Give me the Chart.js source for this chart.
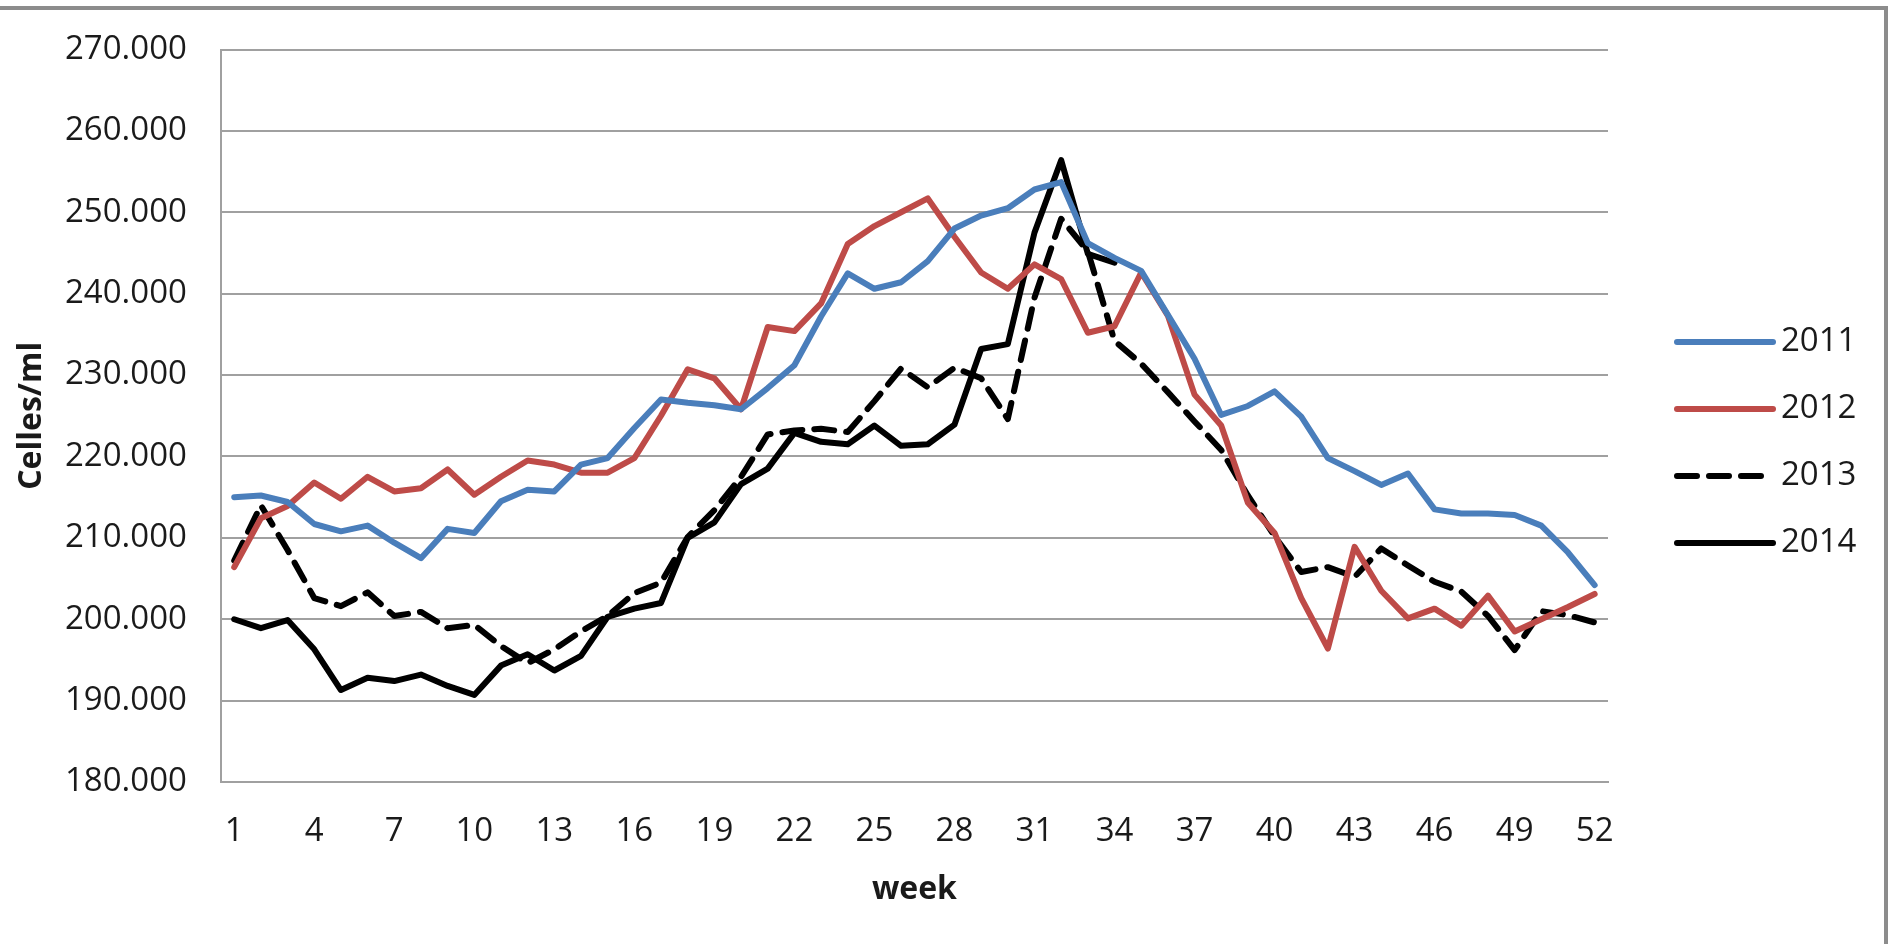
<!DOCTYPE html>
<html>
<head>
<meta charset="utf-8">
<title>Celles/ml per week</title>
<script src="https://cdn.jsdelivr.net/npm/chart.js@4.4.1/dist/chart.umd.min.js"></script>
<style>
  html, body { margin: 0; padding: 0; background: #fff; }
</style>
</head>
<body>
<canvas id="cellsChart" width="1892" height="944"></canvas>
<script>
// week numbers on the category axis
const weeks = ['1','2','3','4','5','6','7','8','9','10','11','12','13','14','15','16','17','18','19','20',
  '21','22','23','24','25','26','27','28','29','30','31','32','33','34','35','36','37','38','39','40',
  '41','42','43','44','45','46','47','48','49','50','51','52'];
const weekTicks = ['1','4','7','10','13','16','19','22','25','28','31','34','37','40','43','46','49','52'];

// values in thousand cells/ml (270 -> "270.000")
const y2011 = [215.0, 215.2, 214.4, 211.7, 210.8, 211.5, 209.4, 207.5, 211.1, 210.6, 214.5, 215.9, 215.7,
  219.0, 219.8, 223.5, 227.0, 226.6, 226.3, 225.8, 228.4, 231.2, 237.2, 242.5, 240.6, 241.4, 244.0,
  248.0, 249.6, 250.5, 252.8, 253.7, 246.2, 244.4, 242.8, 237.4, 232.0, 225.1, 226.2, 228.0, 224.9,
  219.8, 218.2, 216.5, 217.9, 213.5, 213.0, 213.0, 212.8, 211.5, 208.2, 204.2];
const y2012 = [206.4, 212.4, 213.9, 216.8, 214.8, 217.5, 215.7, 216.1, 218.4, 215.3, 217.5, 219.5, 219.0,
  218.0, 218.0, 219.8, 225.0, 230.7, 229.6, 225.8, 235.9, 235.4, 238.8, 246.1, 248.3, 250.0, 251.7,
  247.0, 242.6, 240.6, 243.6, 241.8, 235.2, 236.0, 242.6, 237.3, 227.6, 223.8, 214.3, 210.6, 202.6,
  196.4, 208.9, 203.5, 200.1, 201.3, 199.2, 202.9, 198.5, 200.0, 201.5, 203.1];
const y2013 = [207.2, 214.0, 208.5, 202.6, 201.6, 203.3, 200.4, 200.9, 198.9, 199.3, 196.7, 194.6, 196.3,
  198.5, 200.4, 203.2, 204.5, 210.1, 213.4, 217.5, 222.7, 223.2, 223.4, 223.0, 226.8, 230.8, 228.5,
  230.9, 229.6, 224.6, 239.5, 249.2, 245.2, 234.2, 231.4, 227.9, 224.3, 220.8, 215.2, 210.2, 205.8,
  206.4, 205.2, 208.7, 206.6, 204.6, 203.4, 200.4, 196.2, 201.0, 200.5, 199.6];
const y2014 = [200.0, 198.9, 199.9, 196.3, 191.3, 192.8, 192.4, 193.2, 191.8, 190.7, 194.3, 195.7, 193.7,
  195.5, 200.3, 201.3, 202.0, 210.0, 211.9, 216.6, 218.5, 222.9, 221.8, 221.5, 223.8, 221.3, 221.5,
  223.9, 233.2, 233.8, 247.5, 256.4, 244.9, 243.8, null, null, null, null, null, null, null,
  null, null, null, null, null, null, null, null, null, null, null];

const seriesNames = ['2011', '2012', '2013', '2014'];

Chart.defaults.font.family = "'Open Sans', sans-serif";
Chart.defaults.font.size = 33;
Chart.defaults.color = '#1a1a1a';

// white background + the grey frame of the chart area
const frame = {
  id: 'frame',
  beforeDraw(chart) {
    const ctx = chart.ctx;
    ctx.save();
    ctx.fillStyle = '#fff';
    ctx.fillRect(0, 0, chart.width, chart.height);
    ctx.strokeStyle = '#8c8c8c';
    ctx.lineWidth = 4;
    ctx.beginPath();
    ctx.moveTo(0, 8);
    ctx.lineTo(1886, 8);
    ctx.lineTo(1886, chart.height);
    ctx.stroke();
    ctx.restore();
  }
};

// legend drawn to the right, one line sample + year per dataset
const sideLegend = {
  id: 'sideLegend',
  afterDraw(chart) {
    const ctx = chart.ctx;
    const x0 = chart.chartArea.right + 69;
    ctx.save();
    chart.data.datasets.forEach((ds, i) => {
      const y = 342 + i * 67;
      ctx.beginPath();
      ctx.strokeStyle = ds.borderColor;
      ctx.lineWidth = ds.borderWidth;
      ctx.lineCap = 'round';
      ctx.setLineDash(ds.borderDash || []);
      ctx.moveTo(x0, y);
      ctx.lineTo(x0 + 96, y);
      ctx.stroke();
      ctx.setLineDash([]);
      ctx.fillStyle = '#1a1a1a';
      ctx.font = "33px 'Open Sans'";
      ctx.textBaseline = 'middle';
      ctx.textAlign = 'left';
      ctx.fillText(ds.label, x0 + 104, y);
    });
    ctx.restore();
  }
};

const lineStyle = {
  borderWidth: 6,
  pointRadius: 0,
  pointHoverRadius: 0,
  tension: 0,
  fill: false,
  spanGaps: false,
  borderCapStyle: 'round',
  borderJoinStyle: 'round'
};

const ctx = document.getElementById('cellsChart').getContext('2d');
new Chart(ctx, {
  type: 'line',
  data: {
    labels: weeks,
    datasets: [
      { ...lineStyle, label: seriesNames[0], data: y2011, borderColor: '#4a7ebb' },
      { ...lineStyle, label: seriesNames[1], data: y2012, borderColor: '#be4b48' },
      { ...lineStyle, label: seriesNames[2], data: y2013, borderColor: '#000000', borderDash: [20, 12] },
      { ...lineStyle, label: seriesNames[3], data: y2014, borderColor: '#000000' }
    ]
  },
  options: {
    responsive: false,
    animation: false,
    layout: {
      padding: { left: 6, right: 284, top: 49.5, bottom: 31 }
    },
    plugins: {
      legend: { display: false },
      tooltip: { enabled: false }
    },
    scales: {
      x: {
        offset: true,
        // invisible tick marks are used as the gap between axis and labels
        grid: { display: false, drawTicks: true, tickLength: 28, tickColor: 'rgba(0,0,0,0)' },
        border: { display: true, color: '#a0a0a0', width: 2 },
        ticks: {
          autoSkip: false,
          maxRotation: 0,
          padding: 1.5,
          callback: function (value) {
            const lbl = this.getLabelForValue(value);
            return weekTicks.includes(lbl) ? lbl : '';
          }
        },
        title: {
          display: true,
          text: 'week',
          font: { size: 32, weight: 'bold' },
          padding: { top: 18, bottom: 4 }
        }
      },
      y: {
        min: 180,
        max: 270,
        ticks: {
          stepSize: 10,
          padding: 1,
          callback: (v) => v + '.000'
        },
        grid: { color: '#a0a0a0', lineWidth: 2, drawTicks: true, tickLength: 33, tickColor: 'rgba(0,0,0,0)' },
        border: { display: true, color: '#a0a0a0', width: 2 },
        title: {
          display: true,
          text: 'Celles/ml',
          font: { size: 32, weight: 'bold' },
          padding: { top: 7, bottom: 12.6 }
        }
      }
    }
  },
  plugins: [frame, sideLegend]
});
</script>
</body>
</html>
